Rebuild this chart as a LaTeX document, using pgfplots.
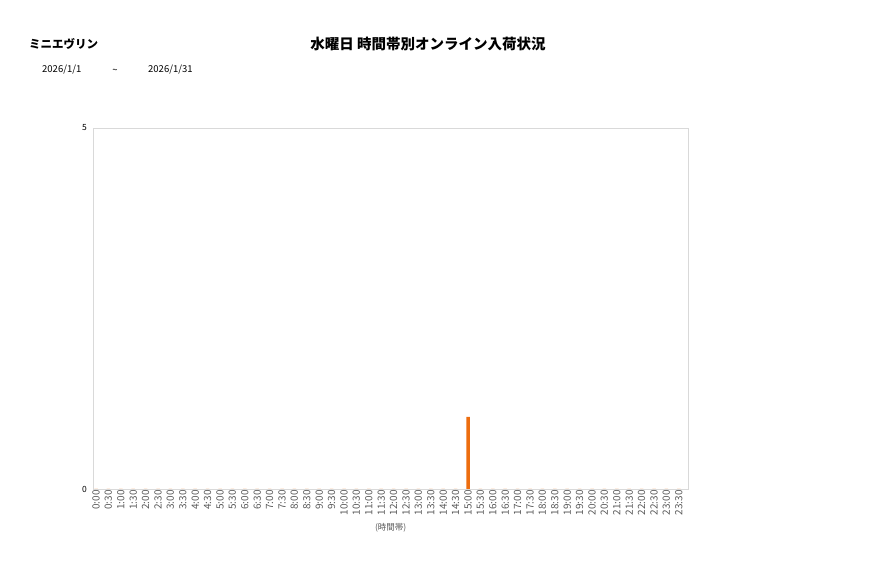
\documentclass[border=0pt]{standalone}
\usepackage{pgfplots}
\pgfplotsset{compat=1.18}
\usepackage{fontspec}
\setmainfont{Noto Sans CJK JP}
\definecolor{barc}{HTML}{ED6D0F}
\definecolor{txt}{HTML}{595959}
\definecolor{frame}{HTML}{D9D9D9}
\begin{document}
\begin{tikzpicture}[x=1pt,y=1pt]
\path (0,0) rectangle (877,578);
\node[anchor=west,font=\fontsize{11.5}{11.5}\selectfont\bfseries,inner sep=0pt] at (29,534) {ミニエヴリン};
\node[anchor=center,font=\fontsize{14.5}{14.5}\selectfont\bfseries] at (428,534) {水曜日 時間帯別オンライン入荷状況};
\node[anchor=west,font=\fontsize{9.5}{9.5}\selectfont,inner sep=0pt] at (42,508) {2026/1/1};
\node[anchor=center,font=\fontsize{9.5}{9.5}\selectfont] at (115,507) {\textasciitilde};
\node[anchor=west,font=\fontsize{9.5}{9.5}\selectfont,inner sep=0pt] at (148,508) {2026/1/31};
\begin{axis}[
  at={(93.3pt,89pt)}, anchor=south west,
  width=594.7pt, height=361pt, scale only axis,
  xmin=-0.22, xmax=47.74, ymin=0, ymax=5,
  ytick={0,5},
  xtick={0,...,47},
  xticklabels={0:00,0:30,1:00,1:30,2:00,2:30,3:00,3:30,4:00,4:30,5:00,5:30,6:00,6:30,7:00,7:30,8:00,8:30,9:00,9:30,10:00,10:30,11:00,11:30,12:00,12:30,13:00,13:30,14:00,14:30,15:00,15:30,16:00,16:30,17:00,17:30,18:00,18:30,19:00,19:30,20:00,20:30,21:00,21:30,22:00,22:30,23:00,23:30},
  x tick label style={rotate=90,anchor=east,font=\fontsize{10}{10}\selectfont,text=txt,inner sep=1pt},
  y tick label style={font=\fontsize{8.5}{8.5}\selectfont,text=black,xshift=-3pt},
  /pgf/number format/assume math mode=true,
  major tick length=0pt,
  axis line style={frame},
  xlabel={(時間帯)},
  xlabel style={font=\fontsize{8.5}{8.5}\selectfont,text=txt,yshift=-4pt},
  ybar, bar width=3.5pt, bar shift=0pt,
]
\addplot[fill=barc,draw=none] coordinates {
(0,0)(1,0)(2,0)(3,0)(4,0)(5,0)(6,0)(7,0)(8,0)(9,0)(10,0)(11,0)(12,0)(13,0)(14,0)(15,0)
(16,0)(17,0)(18,0)(19,0)(20,0)(21,0)(22,0)(23,0)(24,0)(25,0)(26,0)(27,0)(28,0)(29,0)
(30,1)(31,0)(32,0)(33,0)(34,0)(35,0)(36,0)(37,0)(38,0)(39,0)(40,0)(41,0)(42,0)(43,0)
(44,0)(45,0)(46,0)(47,0)};
\end{axis}
\end{tikzpicture}
\end{document}
